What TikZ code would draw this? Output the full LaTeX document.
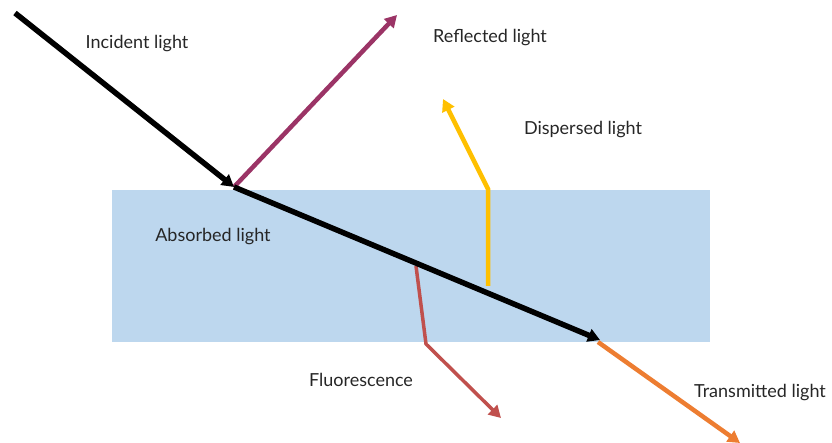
\documentclass[tikz,border=0pt]{standalone}
\usepackage{fontspec}
\setmainfont{Lato}
\usepackage{tikz}
\usetikzlibrary{arrows.meta}
\definecolor{slabblue}{HTML}{BDD7EE}
\definecolor{reflpurple}{HTML}{9B3466}
\definecolor{dispyellow}{HTML}{FFC000}
\definecolor{fluored}{HTML}{C0504D}
\definecolor{transorange}{HTML}{ED7D31}
\tikzset{
  ray/.style={line width=#1,-{Triangle[length=12pt,width=13pt]}},
  lbl/.style={text=black!85,font=\fontsize{18}{20}\selectfont,inner sep=0pt}
}
\begin{document}
\begin{tikzpicture}[x=1pt,y=-1pt]
\useasboundingbox (0,0) rectangle (832,443);
\fill[slabblue] (112,190) rectangle (710,342);
\coordinate (src) at (15,13);
\coordinate (hit) at (234,187);
\coordinate (refl) at (397,15);
\coordinate (exit) at (600,340);
\coordinate (dispA) at (488,286);
\coordinate (dispB) at (488,189);
\coordinate (dispC) at (443,99);
\coordinate (fluA) at (416,266);
\coordinate (fluB) at (426,344);
\coordinate (fluC) at (501,418);
\coordinate (transA) at (598,342);
\coordinate (transB) at (740,443);
\draw[ray=4.5pt,reflpurple] (hit) -- (refl);
\draw[ray=4.5pt,dispyellow] (dispA) -- (dispB) -- (dispC);
\draw[ray=3.5pt,fluored] (fluA) -- (fluB) -- (fluC);
\draw[ray=4.5pt,transorange] (transA) -- (transB);
\draw[ray=5.5pt,black] (src) -- (hit);
\draw[ray=5.5pt,black] (hit) -- (exit);
\node[lbl] (incident) at (137,44) {Incident light};
\node[lbl] (reflected) at (490,38) {Reflected light};
\node[lbl] (dispersed) at (583,130) {Dispersed light};
\node[lbl] (absorbed) at (213,237) {Absorbed light};
\node[lbl] (fluorescence) at (361,380) {Fluorescence};
\node[lbl] (transmitted) at (760,393) {Transmitted light};
\end{tikzpicture}
\end{document}
